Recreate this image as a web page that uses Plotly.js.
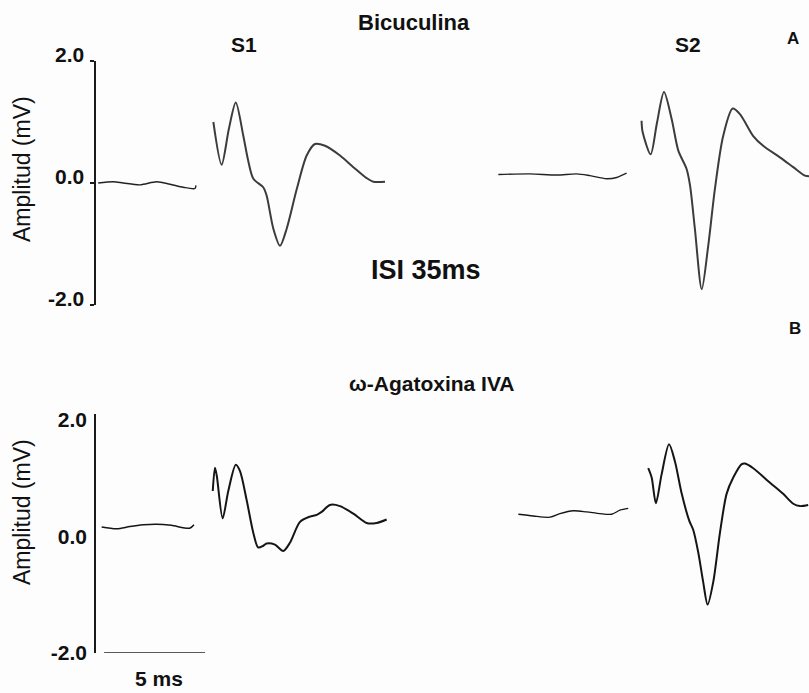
<!DOCTYPE html>
<html>
<head>
<meta charset="utf-8">
<script src="https://cdn.plot.ly/plotly-3.0.1.min.js"></script>
<style>html,body{margin:0;padding:0;background:#fdfdfd;}#chart{width:809px;height:693px;}</style>
</head>
<body>
<div id="chart"></div>
<script>
// ---- Data (time in ms, amplitude in mV) ----
// Panel A: Bicuculina
const bicBase1T = [0.11, 0.86, 1.35, 2.18, 3.00, 3.66, 4.32, 4.90, 4.95];
const bicBase1V = [0.00, 0.02, 0.00, -0.03, 0.02, -0.02, -0.07, -0.09, -0.04];
const bicS1T = [5.81, 6.22, 6.58, 6.92, 7.29, 7.52, 7.79, 8.28, 8.45, 8.78, 9.11, 9.44, 9.94, 10.43, 10.84, 11.34, 12.08, 12.74, 13.40, 13.73, 14.31];
const bicS1V = [1.00, 0.30, 0.89, 1.32, 0.78, 0.39, 0.07, -0.07, -0.21, -0.75, -1.03, -0.75, -0.10, 0.45, 0.64, 0.61, 0.45, 0.26, 0.08, 0.02, 0.02];
const bicBase2T = [19.92, 21.49, 22.81, 23.80, 24.46, 25.28, 25.78, 26.27];
const bicBase2V = [0.14, 0.15, 0.13, 0.15, 0.12, 0.07, 0.09, 0.16];
const bicS2T = [27.01, 27.06, 27.46, 27.77, 28.12, 28.50, 28.83, 29.24, 29.41, 29.65, 29.99, 30.31, 30.64, 31.05, 31.52, 31.88, 32.54, 33.03, 33.86, 34.52, 35.10, 35.30];
const bicS2V = [1.02, 0.84, 0.47, 0.98, 1.49, 1.05, 0.53, 0.23, -0.04, -0.75, -1.74, -1.03, -0.10, 0.77, 1.22, 1.13, 0.77, 0.61, 0.42, 0.26, 0.12, 0.11];

// Panel B: ω-Agatoxina IVA
const agaBase1T = [0.28, 1.03, 1.68, 2.34, 3.00, 3.73, 4.64, 4.85];
const agaBase1V = [0.16, 0.13, 0.17, 0.20, 0.21, 0.19, 0.14, 0.20];
const agaS1T = [5.78, 5.89, 5.98, 6.27, 6.55, 6.92, 7.13, 7.46, 7.79, 8.03, 8.28, 8.45, 8.86, 9.27, 9.60, 10.10, 10.59, 10.93, 11.17, 11.58, 12.08, 12.74, 13.40, 13.89, 14.39];
const agaS1V = [0.78, 1.18, 1.04, 0.31, 0.78, 1.23, 1.12, 0.62, 0.06, -0.19, -0.16, -0.12, -0.14, -0.25, -0.11, 0.25, 0.34, 0.37, 0.42, 0.54, 0.52, 0.39, 0.23, 0.23, 0.29];
const agaBase2T = [20.91, 21.65, 22.48, 22.97, 23.63, 24.29, 24.95, 25.53, 25.94, 26.35];
const agaBase2V = [0.38, 0.35, 0.33, 0.39, 0.44, 0.42, 0.39, 0.38, 0.45, 0.48];
const agaS2T = [27.34, 27.51, 27.72, 28.00, 28.37, 28.66, 29.00, 29.37, 29.57, 29.82, 30.06, 30.28, 30.56, 30.89, 31.22, 31.55, 31.97, 32.13, 32.54, 33.37, 34.02, 34.52, 34.85, 35.26];
const agaS2V = [1.17, 1.01, 0.57, 1.06, 1.58, 1.29, 0.73, 0.27, 0.11, -0.28, -0.78, -1.17, -0.78, 0.06, 0.73, 1.01, 1.24, 1.25, 1.17, 0.92, 0.73, 0.56, 0.52, 0.54];

// Axis ticks
const yTickVals = [2, 0, -2];
const yTickText = ['2.0', '0.0', '-2.0'];
// Scale bar (5 ms)
const scaleBarT = [0.4, 5.4];
const scaleBarV = -2.0;

const FONT_B = 'Liberation Sans, Arial, sans-serif';
const topColor = '#3c3c3c';
const botColor = '#151515';

function tr(x, y, yaxis, color, width) {
  return {x: x, y: y, xaxis: 'x', yaxis: yaxis, mode: 'lines', type: 'scatter',
    line: {color: color, width: width, shape: 'spline', smoothing: 0.8},
    hoverinfo: 'skip', showlegend: false};
}

const data = [
  tr(bicBase1T, bicBase1V, 'y', '#222', 1.4),
  tr(bicS1T, bicS1V, 'y', topColor, 2.0),
  tr(bicBase2T, bicBase2V, 'y', '#222', 1.4),
  tr(bicS2T, bicS2V, 'y', topColor, 2.0),
  tr(agaBase1T, agaBase1V, 'y2', botColor, 1.5),
  tr(agaS1T, agaS1V, 'y2', botColor, 2.0),
  tr(agaBase2T, agaBase2V, 'y2', botColor, 1.3),
  tr(agaS2T, agaS2V, 'y2', botColor, 2.0)
];

function P(px, py) { return {x: px / 809, y: 1 - py / 693}; }
function ann(text, px, py, size, bold, extra) {
  const p = P(px, py);
  return Object.assign({text: bold ? '<b>' + text + '</b>' : text, x: p.x, y: p.y,
    xref: 'paper', yref: 'paper', showarrow: false, xanchor: 'center', yanchor: 'middle',
    font: {family: FONT_B, size: size, color: '#111'}}, extra || {});
}

const layout = {
  width: 809, height: 693,
  margin: {l: 0, r: 0, t: 0, b: 0},
  paper_bgcolor: '#fdfdfd', plot_bgcolor: 'rgba(0,0,0,0)',
  showlegend: false,
  xaxis: {domain: [96 / 809, 1], range: [0, 35.3], visible: false, fixedrange: true},
  yaxis: {domain: [1 - 305 / 693, 1 - 61 / 693], range: [-2, 2], anchor: 'x',
    showline: true, linecolor: '#1a1a1a', linewidth: 1.6, showgrid: false, zeroline: false,
    ticks: 'outside', ticklen: 4, tickwidth: 1.2, tickcolor: '#1a1a1a',
    tickvals: yTickVals, ticktext: yTickText, ticklabelshift: -6, ticklabelstandoff: 2,
    tickfont: {family: FONT_B, size: 21, color: '#111', weight: 'bold'}},
  yaxis2: {domain: [1 - 653 / 693, 1 - 414 / 693], range: [-2, 2.1], anchor: 'x',
    showline: true, linecolor: '#1a1a1a', linewidth: 1.8, showgrid: false, zeroline: false,
    ticks: '', tickvals: yTickVals, ticktext: yTickText, ticklabelstandoff: 3,
    tickfont: {family: FONT_B, size: 21, color: '#111', weight: 'bold'}},
  shapes: [
    {type: 'line', xref: 'x', yref: 'y2', x0: scaleBarT[0], x1: scaleBarT[1], y0: scaleBarV, y1: scaleBarV,
     line: {color: '#222', width: 1.6}}
  ],
  annotations: [
    ann('Bicuculina', 414, 22, 22, true),
    ann('S1', 244, 44, 21, true),
    ann('S2', 688, 44, 21, true),
    ann('A', 793, 39, 17, true),
    ann('ISI 35ms', 426, 270, 27, true),
    ann('B', 795, 329, 17, true),
    ann('ω-Agatoxina IVA', 432, 383, 21, true),
    ann('5 ms', 159, 678, 21, true),
    ann('Amplitud (mV)', 22, 169, 23, false, {textangle: -90}),
    ann('Amplitud (mV)', 22, 512, 23, false, {textangle: -90})
  ]
};

Plotly.newPlot('chart', data, layout, {displayModeBar: false, staticPlot: true});
</script>
</body>
</html>
